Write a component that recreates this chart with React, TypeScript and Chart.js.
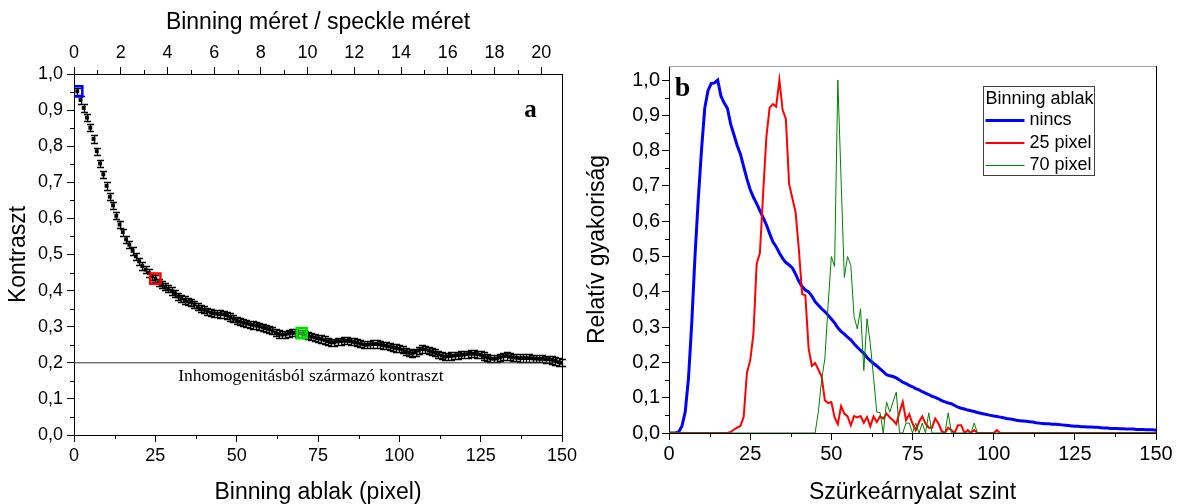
import React, { useEffect, useRef } from "react";
import { Chart, registerables } from "chart.js";
Chart.register(...registerables);

const SANS = '"Liberation Sans", Arial, sans-serif';
const SERIF = '"Liberation Serif", "Times New Roman", serif';

// ---------- Panel a ----------
const binningWindow = [
  1, 2, 3, 4, 5, 6, 7, 8, 9, 10, 11, 12, 13, 14, 15, 16, 17, 18, 19, 20,
  21, 22, 23, 24, 25, 26, 27, 28, 29, 30, 31, 32, 33, 34, 35, 36, 37, 38, 39, 40,
  41, 42, 43, 44, 45, 46, 47, 48, 49, 50, 51, 52, 53, 54, 55, 56, 57, 58, 59, 60,
  61, 62, 63, 64, 65, 66, 67, 68, 69, 70, 71, 72, 73, 74, 75, 76, 77, 78, 79, 80,
  81, 82, 83, 84, 85, 86, 87, 88, 89, 90, 91, 92, 93, 94, 95, 96, 97, 98, 99, 100,
  101, 102, 103, 104, 105, 106, 107, 108, 109, 110, 111, 112, 113, 114, 115, 116, 117, 118, 119, 120,
  121, 122, 123, 124, 125, 126, 127, 128, 129, 130, 131, 132, 133, 134, 135, 136, 137, 138, 139, 140,
  141, 142, 143, 144, 145, 146, 147, 148, 149, 150,
];
const contrast = [
  0.952, 0.928, 0.906, 0.879, 0.851, 0.82, 0.786, 0.752, 0.722, 0.69,
  0.66, 0.636, 0.607, 0.583, 0.562, 0.542, 0.527, 0.51, 0.495, 0.481,
  0.468, 0.458, 0.449, 0.44, 0.433, 0.423, 0.416, 0.411, 0.405, 0.399,
  0.393, 0.384, 0.379, 0.374, 0.37, 0.368, 0.362, 0.355, 0.35, 0.347,
  0.343, 0.339, 0.337, 0.336, 0.335, 0.334, 0.332, 0.327, 0.322, 0.318,
  0.314, 0.311, 0.309, 0.307, 0.305, 0.303, 0.301, 0.298, 0.296, 0.293,
  0.289, 0.284, 0.28, 0.278, 0.279, 0.281, 0.283, 0.283, 0.282, 0.281,
  0.279, 0.275, 0.272, 0.27, 0.268, 0.266, 0.263, 0.26, 0.257, 0.257,
  0.259, 0.26, 0.261, 0.261, 0.26, 0.258, 0.256, 0.253, 0.251, 0.25,
  0.251, 0.252, 0.252, 0.251, 0.249, 0.247, 0.245, 0.243, 0.241, 0.239,
  0.236, 0.232, 0.228, 0.226, 0.229, 0.234, 0.238, 0.237, 0.234, 0.231,
  0.228, 0.224, 0.22, 0.217, 0.218, 0.219, 0.22, 0.221, 0.222, 0.223,
  0.224, 0.225, 0.225, 0.224, 0.222, 0.219, 0.215, 0.212, 0.211, 0.212,
  0.215, 0.218, 0.219, 0.217, 0.215, 0.214, 0.213, 0.213, 0.213, 0.213,
  0.212, 0.212, 0.211, 0.211, 0.21, 0.21, 0.208, 0.205, 0.202, 0.2,
];
const contrastError = 0.01;
const pixelsPerSpeckle = 7.18;
const markedWindows = [1, 25, 70];
const markedContrast = [0.952, 0.433, 0.282];
const markedBorder = ["#0000ff", "#ff0000", "#00e000"];
const markedFill = ["rgba(0,0,0,0)", "rgba(0,0,0,0)", "rgba(60,255,60,0.6)"];
const inhomogeneityContrast = 0.2;
const inhomogeneityText = "Inhomogenitásból származó kontraszt";
const inhomogeneityTextPos = [72.8, 0.161];
const panelALabelPos = [140.3, 0.9];

const windowTicks = [0, 25, 50, 75, 100, 125, 150];
const speckleTicks = [0, 2, 4, 6, 8, 10, 12, 14, 16, 18, 20];
const unitTicks = [0, 0.1, 0.2, 0.3, 0.4, 0.5, 0.6, 0.7, 0.8, 0.9, 1.0];

// ---------- Panel b ----------
const grayLevel = [
  0, 1, 2, 3, 4, 5, 6, 7, 8, 9, 10, 11, 12, 13, 14, 15, 16, 17, 18, 19,
  20, 21, 22, 23, 24, 25, 26, 27, 28, 29, 30, 31, 32, 33, 34, 35, 36, 37, 38, 39,
  40, 41, 42, 43, 44, 45, 46, 47, 48, 49, 50, 51, 52, 53, 54, 55, 56, 57, 58, 59,
  60, 61, 62, 63, 64, 65, 66, 67, 68, 69, 70, 71, 72, 73, 74, 75, 76, 77, 78, 79,
  80, 81, 82, 83, 84, 85, 86, 87, 88, 89, 90, 91, 92, 93, 94, 95, 96, 97, 98, 99,
  100, 101, 102, 103, 104, 105, 106, 107, 108, 109, 110, 111, 112, 113, 114, 115, 116, 117, 118, 119,
  120, 121, 122, 123, 124, 125, 126, 127, 128, 129, 130, 131, 132, 133, 134, 135, 136, 137, 138, 139,
  140, 141, 142, 143, 144, 145, 146, 147, 148, 149, 150,
];
const histNone = [
  0, 0, 0, 0.003, 0.02, 0.06, 0.155, 0.31, 0.5, 0.66,
  0.8, 0.92, 0.97, 0.99, 0.992, 1.0, 0.955, 0.935, 0.92, 0.875,
  0.845, 0.815, 0.79, 0.755, 0.72, 0.69, 0.668, 0.65, 0.63, 0.61,
  0.59, 0.565, 0.542, 0.528, 0.51, 0.495, 0.483, 0.476, 0.468, 0.45,
  0.43, 0.415, 0.405, 0.4, 0.388, 0.372, 0.362, 0.352, 0.344, 0.334,
  0.323, 0.312, 0.298, 0.288, 0.28, 0.272, 0.264, 0.253, 0.243, 0.234,
  0.226, 0.214, 0.205, 0.197, 0.19, 0.182, 0.174, 0.165, 0.162, 0.16,
  0.156, 0.15, 0.144, 0.14, 0.135, 0.131, 0.126, 0.122, 0.117, 0.113,
  0.109, 0.104, 0.101, 0.097, 0.092, 0.088, 0.085, 0.083, 0.078, 0.073,
  0.07, 0.068, 0.065, 0.063, 0.061, 0.058, 0.056, 0.054, 0.052, 0.05,
  0.048, 0.047, 0.045, 0.043, 0.041, 0.04, 0.038, 0.036, 0.035, 0.034,
  0.033, 0.032, 0.031, 0.029, 0.028, 0.027, 0.026, 0.026, 0.025, 0.025,
  0.024, 0.023, 0.022, 0.021, 0.02, 0.019, 0.019, 0.018, 0.018, 0.017,
  0.017, 0.016, 0.016, 0.015, 0.014, 0.014, 0.013, 0.013, 0.013, 0.012,
  0.012, 0.011, 0.011, 0.011, 0.01, 0.01, 0.01, 0.009, 0.009, 0.009,
  0.008,
];
const hist25 = [
  0, 0, 0, 0, 0, 0, 0, 0, 0, 0,
  0, 0, 0, 0, 0, 0, 0, 0, 0, 0.003,
  0.01, 0.015, 0.02, 0.045, 0.17, 0.205, 0.28, 0.48, 0.51, 0.68,
  0.84, 0.922, 0.932, 0.925, 1.0, 0.915, 0.89, 0.705, 0.665, 0.625,
  0.52, 0.394, 0.39, 0.24, 0.19, 0.198, 0.18, 0.16, 0.093, 0.085,
  0.088, 0.045, 0.025, 0.076, 0.055, 0.047, 0.022, 0.048, 0.044, 0.048,
  0.029, 0.045, 0.019, 0.047, 0.031, 0.047, 0.041, 0.055, 0.044, 0.036,
  0.025, 0.059, 0.088, 0.036, 0.053, 0.027, 0.008, 0.031, 0.047, 0.027,
  0.015, 0.015, 0.041, 0.027, 0.005, 0, 0.015, 0.008, 0, 0.022,
  0.022, 0, 0.008, 0, 0.008, 0, 0, 0, 0, 0,
  0, 0.008, 0, 0, 0, 0, 0, 0, 0, 0,
  0, 0, 0, 0, 0, 0, 0, 0, 0, 0,
  0, 0, 0, 0, 0, 0, 0, 0, 0, 0,
  0, 0, 0, 0, 0, 0, 0, 0, 0, 0,
  0, 0, 0, 0, 0, 0, 0, 0, 0, 0,
  0,
];
const hist70 = [
  0, 0, 0, 0, 0, 0, 0, 0, 0, 0,
  0, 0, 0, 0, 0, 0, 0, 0, 0, 0,
  0, 0, 0, 0, 0, 0, 0, 0, 0, 0,
  0, 0, 0, 0, 0, 0, 0, 0, 0, 0,
  0, 0, 0, 0, 0, 0, 0.06, 0.15, 0.21, 0.36,
  0.5, 0.472, 1.0, 0.72, 0.441, 0.5, 0.475, 0.33, 0.295, 0.352,
  0.177, 0.324, 0.253, 0.158, 0.059, 0.058, 0, 0.088, 0.059, 0.088,
  0.116, 0, 0, 0.028, 0.028, 0, 0.028, 0, 0.028, 0,
  0.057, 0, 0, 0, 0, 0, 0.057, 0, 0, 0,
  0, 0, 0, 0, 0.028, 0, 0, 0, 0, 0,
  0, 0, 0, 0, 0, 0, 0, 0, 0, 0,
  0, 0, 0, 0, 0, 0, 0, 0, 0, 0,
  0, 0, 0, 0, 0, 0, 0, 0, 0, 0,
  0, 0, 0, 0, 0, 0, 0, 0, 0, 0,
  0, 0, 0, 0, 0, 0, 0, 0, 0, 0,
  0,
];
const histLabels = ["nincs", "25 pixel", "70 pixel"];
const histColors = ["#0000ff", "#ff0000", "#008000"];
const histWidths = [3, 2, 1];
const legendTitle = "Binning ablak";
const panelBLabelPos = [4.2, 0.975];

// ---------- helpers ----------
const comma = (v: any) => Number(v).toFixed(1).replace(".", ",");
const fixW = (w: number) => (s: any) => { s.width = w; };
const fixH = (h: number) => (s: any) => { s.height = h; };
const useTicks = (vals: number[]) => (s: any) => {
  s.ticks = vals.map((value) => ({ value }));
};

const minorTicksPlugin = {
  id: "minorTicks",
  afterDraw(chart: any, _a: any, opts: any) {
    const ctx = chart.ctx;
    const len = (opts && opts.length) || 4;
    ctx.save();
    ctx.strokeStyle = "#000";
    ctx.lineWidth = 1;
    Object.values(chart.scales).forEach((s: any) => {
      const t = s.ticks.map((k: any) => k.value);
      if (t.length < 2) return;
      ctx.beginPath();
      for (let i = 0; i < t.length - 1; i++) {
        const v = (t[i] + t[i + 1]) / 2;
        const p = Math.round(s.getPixelForValue(v)) + 0.5;
        if (s.position === "bottom") {
          ctx.moveTo(p, s.top);
          ctx.lineTo(p, s.top + len);
        } else if (s.position === "top") {
          ctx.moveTo(p, s.bottom);
          ctx.lineTo(p, s.bottom - len);
        } else if (s.position === "left") {
          ctx.moveTo(s.right, p);
          ctx.lineTo(s.right - len, p);
        }
      }
      ctx.stroke();
    });
    ctx.restore();
  },
};

const errorBarPlugin = {
  id: "errorBars",
  beforeDatasetsDraw(chart: any) {
    const ctx = chart.ctx;
    const xs = chart.scales.x;
    const ys = chart.scales.y;
    ctx.save();
    ctx.strokeStyle = "#000";
    ctx.lineWidth = 1.3;
    ctx.beginPath();
    binningWindow.forEach((b, i) => {
      const px = Math.round(xs.getPixelForValue(b)) + 0.5;
      const top = Math.round(ys.getPixelForValue(contrast[i] + contrastError)) + 0.5;
      const bot = Math.round(ys.getPixelForValue(contrast[i] - contrastError)) + 0.5;
      ctx.moveTo(px, top);
      ctx.lineTo(px, bot);
      ctx.moveTo(px - 3.5, top);
      ctx.lineTo(px + 3.5, top);
      ctx.moveTo(px - 3.5, bot);
      ctx.lineTo(px + 3.5, bot);
    });
    ctx.stroke();
    ctx.restore();
  },
};

const panelAExtras = {
  id: "panelAExtras",
  afterDraw(chart: any) {
    const ctx = chart.ctx;
    const { right, top, bottom } = chart.chartArea;
    const xs = chart.scales.x;
    const ys = chart.scales.y;
    ctx.save();
    ctx.strokeStyle = "#000";
    ctx.lineWidth = 1;
    ctx.beginPath();
    ctx.moveTo(Math.round(right) + 0.5, top);
    ctx.lineTo(Math.round(right) + 0.5, bottom);
    ctx.stroke();
    ctx.fillStyle = "#000";
    ctx.textAlign = "center";
    ctx.textBaseline = "middle";
    ctx.font = `17.5px ${SERIF}`;
    ctx.fillText(
      inhomogeneityText,
      xs.getPixelForValue(inhomogeneityTextPos[0]),
      ys.getPixelForValue(inhomogeneityTextPos[1])
    );
    ctx.font = `bold 25px ${SERIF}`;
    ctx.fillText("a", xs.getPixelForValue(panelALabelPos[0]), ys.getPixelForValue(panelALabelPos[1]));
    ctx.restore();
  },
};

const panelBExtras = {
  id: "panelBExtras",
  afterDraw(chart: any) {
    const ctx = chart.ctx;
    const { left, right, top, bottom } = chart.chartArea;
    const xs = chart.scales.x;
    const ys = chart.scales.y;
    ctx.save();
    ctx.lineWidth = 1;
    ctx.strokeStyle = "#a0a0a0";
    ctx.beginPath();
    ctx.moveTo(left, Math.round(top) + 0.5);
    ctx.lineTo(right, Math.round(top) + 0.5);
    ctx.stroke();
    ctx.strokeStyle = "#000";
    ctx.beginPath();
    ctx.moveTo(Math.round(right) + 0.5, top);
    ctx.lineTo(Math.round(right) + 0.5, bottom);
    ctx.stroke();

    ctx.fillStyle = "#000";
    ctx.textAlign = "center";
    ctx.textBaseline = "middle";
    ctx.font = `bold 28px ${SERIF}`;
    ctx.fillText("b", xs.getPixelForValue(panelBLabelPos[0]), ys.getPixelForValue(panelBLabelPos[1]));

    // legend
    const x0 = Math.round(left + 314) + 0.5;
    const y0 = Math.round(top + 20) + 0.5;
    const w = 111;
    const h = 89;
    ctx.fillStyle = "#fff";
    ctx.fillRect(x0, y0, w, h);
    ctx.strokeStyle = "#404040";
    ctx.strokeRect(x0, y0, w, h);
    ctx.fillStyle = "#000";
    ctx.textAlign = "left";
    ctx.font = `18px ${SANS}`;
    ctx.fillText(legendTitle, x0 + 2, y0 + 12.5);
    chart.data.datasets.forEach((ds: any, i: number) => {
      const y = y0 + 34 + i * 22.5;
      ctx.strokeStyle = ds.borderColor;
      ctx.lineWidth = ds.borderWidth;
      ctx.beginPath();
      ctx.moveTo(x0 + 2, y);
      ctx.lineTo(x0 + 41, y);
      ctx.stroke();
      ctx.fillText(ds.label, x0 + 46, y);
    });
    ctx.restore();
  },
};

const axisBase = (size: number, pad: number) => ({
  ticks: { color: "#000", font: { family: SANS, size }, padding: pad, maxRotation: 0, autoSkip: false },
  grid: { drawOnChartArea: false, drawTicks: true, tickLength: 7, tickColor: "#000", color: "#000" },
  border: { display: true, color: "#000", width: 1 },
});
const titleFont = { family: SANS, size: 23, lineHeight: 1 };

export default function App() {
  const leftRef = useRef<HTMLCanvasElement>(null);
  const rightRef = useRef<HTMLCanvasElement>(null);

  useEffect(() => {
    const left = new Chart(leftRef.current as HTMLCanvasElement, {
      type: "scatter",
      data: {
        datasets: [
          {
            data: markedWindows.map((x, i) => ({ x, y: markedContrast[i] })),
            pointStyle: "rect",
            pointRadius: 7.2,
            pointBorderWidth: 2.5,
            pointBorderColor: markedBorder,
            pointBackgroundColor: markedFill,
            showLine: false,
            clip: 0,
          } as any,
          {
            data: binningWindow.map((x, i) => ({ x, y: contrast[i] })),
            pointStyle: "rect",
            pointRadius: 2.7,
            pointBorderWidth: 0,
            pointBackgroundColor: "#000",
            showLine: false,
          } as any,
          {
            data: [
              { x: 0, y: inhomogeneityContrast },
              { x: 150, y: inhomogeneityContrast },
            ],
            showLine: true,
            borderColor: "#333",
            borderWidth: 1,
            pointRadius: 0,
          } as any,
        ],
      },
      options: {
        animation: false,
        responsive: false,
        events: [],
        layout: { padding: { left: 0, right: 28, top: 0, bottom: 0 } },
        plugins: { legend: { display: false }, tooltip: { enabled: false }, minorTicks: { length: 4 } } as any,
        scales: {
          x: {
            type: "linear",
            position: "bottom",
            min: 0,
            max: 150,
            ...axisBase(18, 3.6),
            afterBuildTicks: useTicks(windowTicks),
            title: { display: true, text: "Binning ablak (pixel)", color: "#000", font: titleFont, padding: { top: 0, bottom: 0 } },
            afterFit: fixH(69),
          } as any,
          x2: {
            type: "linear",
            axis: "x",
            position: "top",
            min: 0,
            max: 150 / pixelsPerSpeckle,
            ...axisBase(18, 3),
            afterBuildTicks: useTicks(speckleTicks),
            title: { display: true, text: "Binning méret / speckle méret", color: "#000", font: titleFont, padding: { top: 11, bottom: 0 } },
            afterFit: fixH(74),
          } as any,
          y: {
            type: "linear",
            position: "left",
            min: 0,
            max: 1,
            ...axisBase(18, 4),
            ticks: { ...axisBase(18, 4).ticks, callback: comma },
            afterBuildTicks: useTicks(unitTicks),
            title: { display: true, text: "Kontraszt", color: "#000", font: titleFont, padding: { top: 7.5, bottom: 0 } },
            afterFit: fixW(74),
          } as any,
        },
      },
      plugins: [errorBarPlugin, minorTicksPlugin, panelAExtras],
    });

    const right = new Chart(rightRef.current as HTMLCanvasElement, {
      type: "line",
      data: {
        datasets: [histNone, hist25, hist70].map((vals, i) => ({
          label: histLabels[i],
          data: grayLevel.map((x, j) => ({ x, y: vals[j] })),
          borderColor: histColors[i],
          borderWidth: histWidths[i],
          pointRadius: 0,
          tension: 0,
          fill: false,
          order: 3 - i,
        })),
      },
      options: {
        animation: false,
        responsive: false,
        events: [],
        layout: { padding: { left: 0, right: 24, top: 66, bottom: 0 } },
        plugins: { legend: { display: false }, tooltip: { enabled: false }, minorTicks: { length: 4 } } as any,
        scales: {
          x: {
            type: "linear",
            position: "bottom",
            min: 0,
            max: 150,
            ...axisBase(20, 2.2),
            afterBuildTicks: useTicks(windowTicks),
            title: { display: true, text: "Szürkeárnyalat szint", color: "#000", font: titleFont, padding: { top: 0, bottom: 0 } },
            afterFit: fixH(71),
          } as any,
          y: {
            type: "linear",
            position: "left",
            min: 0,
            max: 1.04,
            ...axisBase(20, 2),
            ticks: { ...axisBase(20, 2).ticks, callback: comma },
            afterBuildTicks: useTicks(unitTicks),
            title: { display: true, text: "Relatív gyakoriság", color: "#000", font: titleFont, padding: { top: 11.5, bottom: 0 } },
            afterFit: fixW(94),
          } as any,
        },
      },
      plugins: [minorTicksPlugin, panelBExtras],
    });

    return () => {
      left.destroy();
      right.destroy();
    };
  }, []);

  return (
    <div style={{ position: "fixed", left: 0, top: 0, width: 1180, height: 504, background: "#fff" }}>
      <canvas
        ref={leftRef}
        width={590}
        height={504}
        style={{ position: "absolute", left: 0, top: 0, width: 590, height: 504 }}
      />
      <canvas
        ref={rightRef}
        width={605}
        height={504}
        style={{ position: "absolute", left: 575, top: 0, width: 605, height: 504 }}
      />
    </div>
  );
}
